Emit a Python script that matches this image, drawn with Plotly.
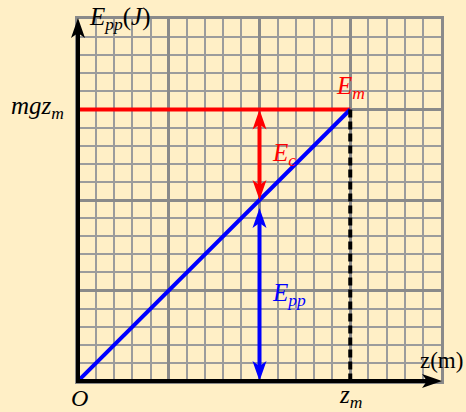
import plotly.graph_objects as go

# ---- quantities, in grid units (one major square = one unit) ----
z_points = [0, 3]          # height z (m): from ground to z_m
epp_points = [0, 3]        # potential energy E_pp = m g z (J)
z_max = 3                  # z_m
e_mech = 3                 # E_m = m g z_m
z_split = 2                # height where E_c and E_pp are shown
ec_span = [2, 3]           # kinetic energy E_c spans E_pp .. E_m
epp_span = [0, 2]          # potential energy spans 0 .. E_pp
axis_max = 4

# ---- figure geometry ----
W, H = 466, 412
ML, MR, MT, MB = 78, 25, 19, 31
PW, PH = W - ML - MR, H - MT - MB
PX_X, PX_Y = PW / axis_max, PH / axis_max

BG = "#FFEFC6"
RED, BLUE, BLACK = "#FF0000", "#0000FF", "#000000"
MAJOR, MINOR = "#8a8a8a", "#9c9c9c"
FONT = "Liberation Serif, Times New Roman, serif"

HEAD_L, HEAD_HW, HEAD_N = 20, 7, 5


def head_path(direction, dx=0, dy=0):
    """Notched arrow head with its tip at (dx,dy), in pixels (y up)."""
    L, hw, n = HEAD_L, HEAD_HW, HEAD_N
    if direction == "up":
        pts = [(0, 0), (-hw, -L), (0, -L + n), (hw, -L)]
    elif direction == "down":
        pts = [(0, 0), (-hw, L), (0, L - n), (hw, L)]
    else:  # right
        pts = [(0, 0), (-L, hw), (-L + n, 0), (-L, -hw)]
    return "M" + " L".join(f"{x + dx},{y + dy}" for x, y in pts) + " Z"


def head(x, y, direction, color, xref="x", yref="y", dy=0):
    return dict(
        type="path", xref=xref, yref=yref,
        xsizemode="pixel", ysizemode="pixel",
        xanchor=x, yanchor=y,
        path=head_path(direction, dy=dy),
        fillcolor=color, line=dict(width=0), layer="above",
    )


fig = go.Figure()

# E_m level (mg z_m)
fig.add_trace(go.Scatter(x=z_points, y=[e_mech, e_mech], mode="lines",
                         line=dict(color=RED, width=4), hoverinfo="skip"))
# E_pp = m g z
fig.add_trace(go.Scatter(x=z_points, y=epp_points, mode="lines",
                         line=dict(color=BLUE, width=4), hoverinfo="skip"))
# drop line at z_m
fig.add_trace(go.Scatter(x=[z_max, z_max], y=[e_mech, 0], mode="lines",
                         line=dict(color=BLACK, width=4, dash="8px,4px"),
                         hoverinfo="skip"))

# double arrows: shafts stop under the heads
back = HEAD_L - 8
gap_px = 8  # space between the two arrow tips at z_split
fig.add_trace(go.Scatter(x=[z_split, z_split],
                         y=[ec_span[0] + back / PX_Y, ec_span[1] - back / PX_Y],
                         mode="lines", line=dict(color=RED, width=4),
                         hoverinfo="skip"))
fig.add_trace(go.Scatter(x=[z_split, z_split],
                         y=[epp_span[0] + back / PX_Y,
                            epp_span[1] - (back + gap_px) / PX_Y],
                         mode="lines", line=dict(color=BLUE, width=4),
                         hoverinfo="skip"))

shapes = [
    head(z_split, ec_span[1], "up", RED),
    head(z_split, ec_span[0], "down", RED),
    head(z_split, epp_span[1], "up", BLUE, dy=-gap_px),
    head(z_split, epp_span[0], "down", BLUE),
]

# coordinate axes (black, with arrow heads), drawn on paper so they are not clipped
tip_y = 1 + 1 / PH
tip_x = 1 + 1 / PW
shapes += [
    dict(type="line", xref="paper", yref="paper", x0=0, x1=0,
         y0=-2 / PH, y1=tip_y - back / PH,
         line=dict(color=BLACK, width=4), layer="above"),
    dict(type="line", xref="paper", yref="paper", y0=0, y1=0,
         x0=-2 / PW, x1=tip_x - back / PW,
         line=dict(color=BLACK, width=4), layer="above"),
    head(0, tip_y, "up", BLACK, xref="paper", yref="paper"),
    head(tip_x, 0, "right", BLACK, xref="paper", yref="paper"),
]


def font(color=BLACK, size=25):
    return dict(family=FONT, size=size, color=color)


annotations = [
    dict(text="<i>E</i><sub><i>pp</i></sub>(<i>J</i>)", xref="paper", yref="paper",
         x=9 / PW, y=1 + 1 / PH, xanchor="left", yanchor="middle", showarrow=False,
         font=font()),
    dict(text="<i>mgz</i><sub><i>m</i></sub>", xref="paper", yref="y",
         x=-12 / PW, y=e_mech, xanchor="right", yanchor="middle", yshift=2,
         showarrow=False, font=font()),
    dict(text="<i>E</i><sub><i>m</i></sub>", xref="x", yref="y",
         x=z_max, y=e_mech, xanchor="center", yanchor="bottom", yshift=5,
         showarrow=False, font=font(RED)),
    dict(text="<i>E</i><sub><i>c</i></sub>", xref="x", yref="y",
         x=z_split, y=sum(ec_span) / 2, xanchor="left", yanchor="middle", xshift=10,
         showarrow=False, font=font(RED)),
    dict(text="<i>E</i><sub><i>pp</i></sub>", xref="x", yref="y",
         x=z_split, y=sum(epp_span) / 2, xanchor="left", yanchor="middle", xshift=10,
         yshift=-4, showarrow=False, font=font(BLUE)),
    dict(text="z(m)", xref="paper", yref="paper",
         x=1, y=21 / PH, xanchor="center", yanchor="middle", showarrow=False,
         font=font(size=23)),
    dict(text="<i>O</i>", xref="paper", yref="paper",
         x=1 / PW, y=-17 / PH, xanchor="center", yanchor="middle", showarrow=False,
         font=font(size=24)),
    dict(text="<i>z</i><sub><i>m</i></sub>", xref="x", yref="paper",
         x=z_max, y=-16 / PH, xanchor="center", yanchor="middle", showarrow=False,
         font=font()),
]

axis_common = dict(
    range=[0, axis_max], tick0=0, dtick=1,
    showgrid=True, gridcolor=MAJOR, gridwidth=3,
    minor=dict(tick0=0, dtick=0.2, showgrid=True, gridcolor=MINOR, gridwidth=1.5),
    showticklabels=False, ticks="", zeroline=False,
    showline=True, mirror=True, linecolor=MAJOR, linewidth=3,
    fixedrange=True,
)

fig.update_layout(
    width=W, height=H, autosize=False,
    margin=dict(l=ML, r=MR, t=MT, b=MB, pad=0),
    paper_bgcolor=BG, plot_bgcolor=BG,
    showlegend=False,
    xaxis=axis_common, yaxis=axis_common,
    shapes=shapes, annotations=annotations,
)

fig.write_html("out.html", config=dict(displayModeBar=False))
